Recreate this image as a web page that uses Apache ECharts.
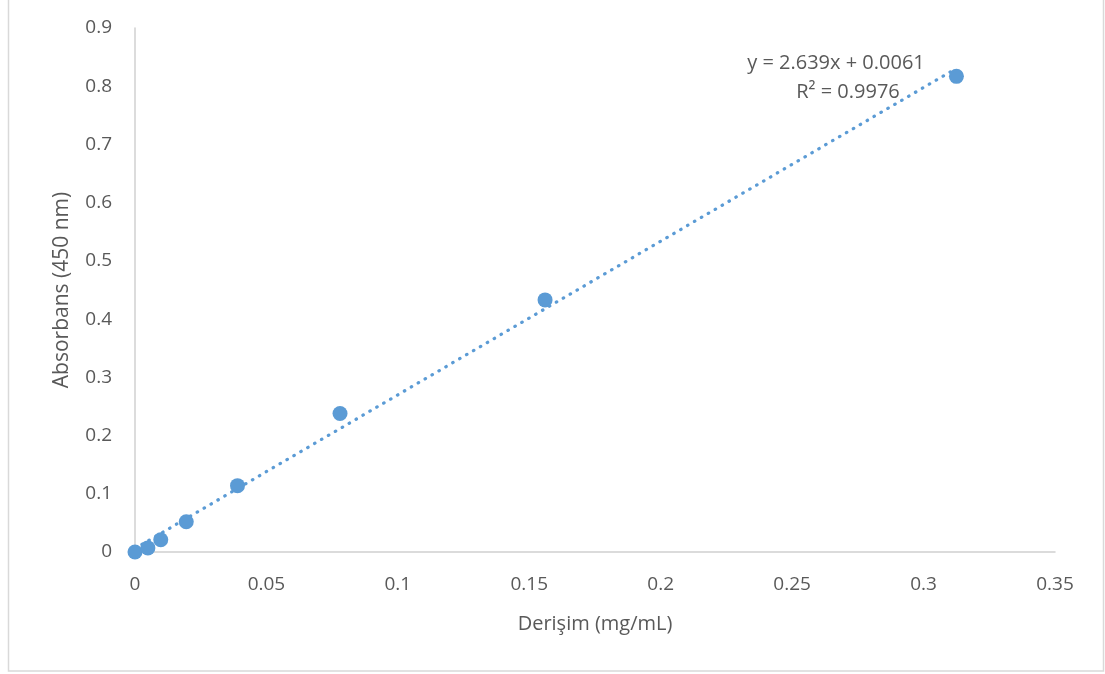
<!DOCTYPE html>
<html><head><meta charset="utf-8">
<script src="https://cdn.jsdelivr.net/npm/echarts@6/dist/echarts.min.js"></script>
<style>html,body{margin:0;padding:0;background:#fff}#c{width:1105px;height:674px}</style>
</head><body><div id="c"></div>
<script>
const concentrations = [0, 0.0049, 0.0098, 0.0195, 0.039, 0.078, 0.156, 0.3125];
const absorbances = [0, 0.007, 0.021, 0.052, 0.114, 0.238, 0.433, 0.817];
const trendX = [0, 0.3125];
const trendY = [0.0061, 0.8308];
const equationText = 'y = 2.639x + 0.0061';
const r2Text = 'R² = 0.9976';
const xTitle = 'Derişim (mg/mL)';
const yTitle = 'Absorbans (450 nm)';

const points = concentrations.map((x, i) => [x, absorbances[i]]);
const trend = trendX.map((x, i) => [x, trendY[i]]);
const FONT = '"Open Sans", "Liberation Sans", sans-serif';
const TXT = '#595959';

const chart = echarts.init(document.getElementById('c'), null, {renderer: 'canvas'});
chart.setOption({
  animation: false,
  backgroundColor: '#fff',
  grid: {left: 135, right: 50, top: 28, bottom: 122},
  xAxis: {
    type: 'value', min: 0, max: 0.35, interval: 0.05,
    axisLine: {show: true, onZero: false, lineStyle: {color: '#d0d0d0', width: 1.5}},
    axisTick: {show: false},
    splitLine: {show: false},
    axisLabel: {color: TXT, fontSize: 19, fontFamily: FONT, margin: 23,
      formatter: v => String(+v.toFixed(2))},
    name: xTitle, nameLocation: 'middle', nameGap: 62,
    nameTextStyle: {color: TXT, fontSize: 20, fontFamily: FONT}
  },
  yAxis: {
    type: 'value', min: 0, max: 0.9, interval: 0.1,
    axisLine: {show: true, lineStyle: {color: '#d0d0d0', width: 1.5}},
    axisTick: {show: false},
    splitLine: {show: false},
    axisLabel: {color: TXT, fontSize: 19, fontFamily: FONT, margin: 23,
      formatter: v => String(+v.toFixed(1))},
    name: yTitle, nameLocation: 'middle', nameGap: 62,
    nameTextStyle: {color: TXT, fontSize: 21, fontFamily: FONT}
  },
  series: [
    {
      type: 'line', data: trend, symbol: 'none', silent: true,
      lineStyle: {color: '#5B9BD5', width: 3.2, type: [0.5, 7.5], cap: 'round'},
      z: 2
    },
    {
      type: 'scatter', data: points, symbol: 'circle', symbolSize: 15,
      itemStyle: {color: '#5B9BD5', opacity: 1},
      z: 3
    }
  ],
  graphic: [
    {type: 'rect', shape: {x: 8.5, y: -5, width: 1095, height: 676},
     style: {fill: 'none', stroke: '#d9d9d9', lineWidth: 1.5}, silent: true},
    {type: 'text', x: 836, y: 63, style: {text: equationText, fill: TXT, fontSize: 20, fontFamily: FONT,
      textAlign: 'center', textVerticalAlign: 'middle'}},
    {type: 'text', x: 848, y: 92, style: {text: r2Text, fill: TXT, fontSize: 20, fontFamily: FONT,
      textAlign: 'center', textVerticalAlign: 'middle'}}
  ]
});
</script></body></html>
